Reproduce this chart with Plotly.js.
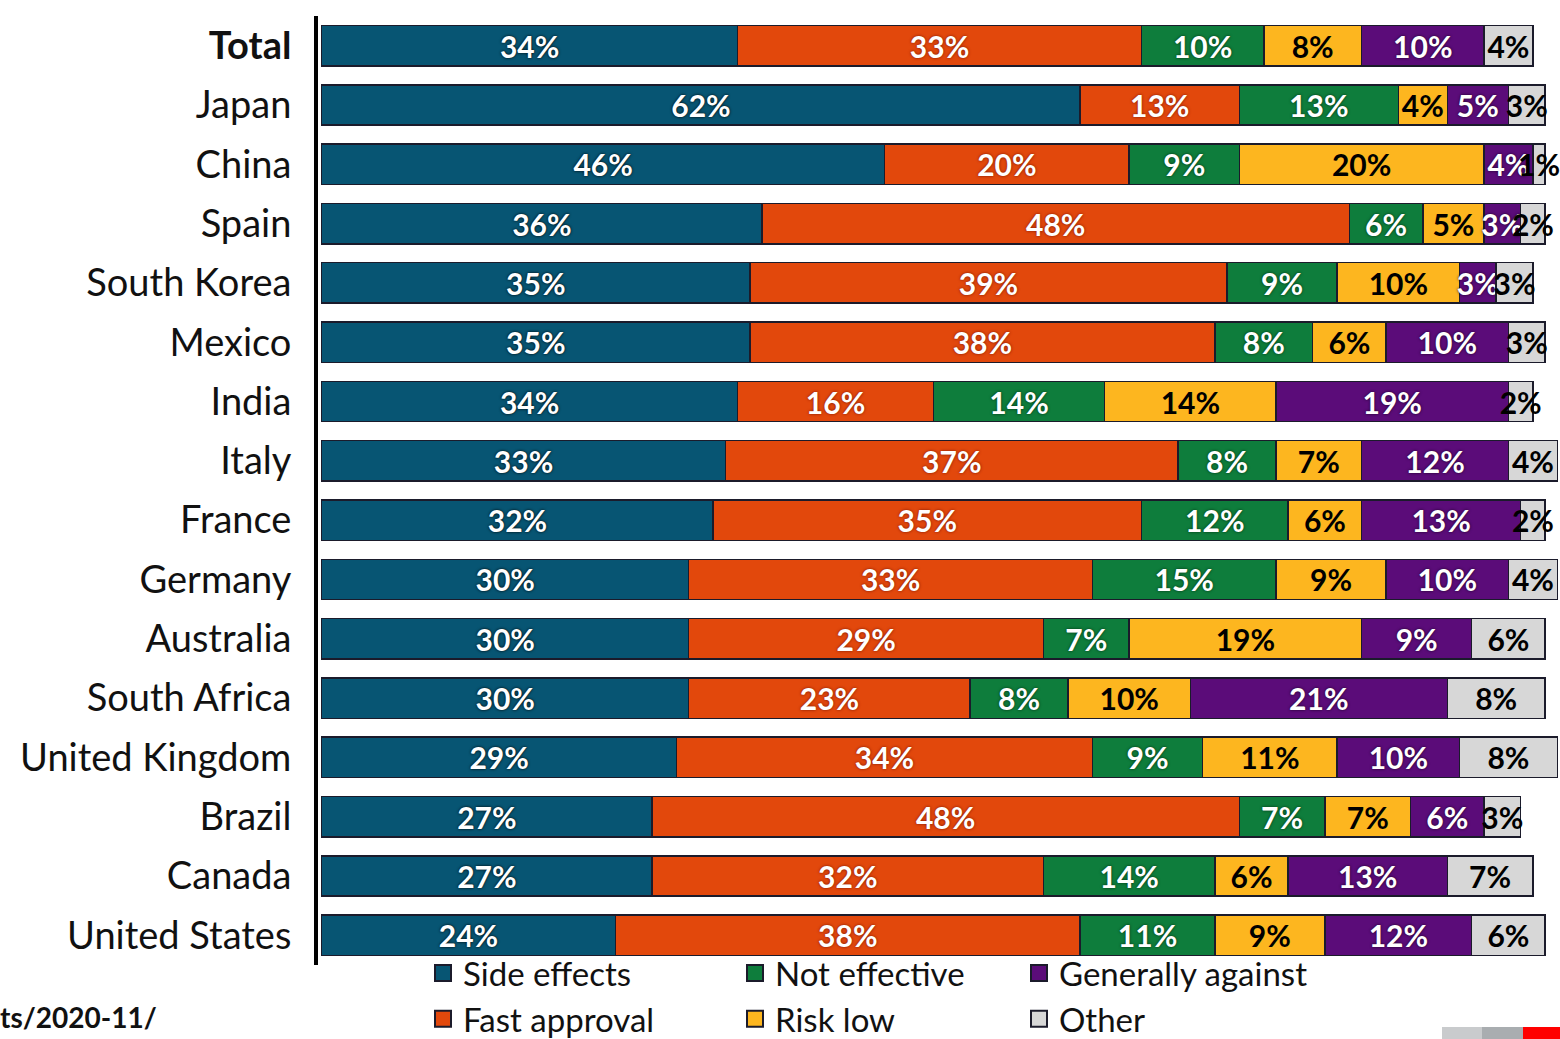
<!DOCTYPE html>
<html>
<head>
<meta charset="utf-8">
<script src="https://cdn.plot.ly/plotly-3.0.1.min.js"></script>
<style>html,body{margin:0;padding:0;background:#fff;}#chart{width:1560px;height:1039px;}</style>
</head>
<body>
<div id="chart"></div>
<script>
const categories = ['Total','Japan','China','Spain','South Korea','Mexico','India','Italy','France','Germany','Australia','South Africa','United Kingdom','Brazil','Canada','United States'];
const sideEffects      = [34,62,46,36,35,35,34,33,32,30,30,30,29,27,27,24];
const fastApproval     = [33,13,20,48,39,38,16,37,35,33,29,23,34,48,32,38];
const notEffective     = [10,13, 9, 6, 9, 8,14, 8,12,15, 7, 8, 9, 7,14,11];
const riskLow          = [ 8, 4,20, 5,10, 6,14, 7, 6, 9,19,10,11, 7, 6, 9];
const generallyAgainst = [10, 5, 4, 3, 3,10,19,12,13,10, 9,21,10, 6,13,12];
const other            = [ 4, 3, 1, 2, 3, 3, 2, 4, 2, 4, 6, 8, 8, 3, 7, 6];
const seriesNames = ['Side effects','Fast approval','Not effective','Risk low','Generally against','Other'];
const tickLabels = categories.map(c => c === 'Total' ? '<b>Total</b>' : c);

const FONT = 'Lato, "Open Sans", sans-serif';
const series = [
  {name: seriesNames[0], vals: sideEffects,      color: '#075573', txt: '#ffffff', shadow: '0px 0px 3px #000', legend: 'legend'},
  {name: seriesNames[1], vals: fastApproval,     color: '#E2480C', txt: '#ffffff', shadow: '0px 0px 3px #7a1500', legend: 'legend'},
  {name: seriesNames[2], vals: notEffective,     color: '#0E7D3C', txt: '#ffffff', shadow: '0px 0px 3px #003010', legend: 'legend2'},
  {name: seriesNames[3], vals: riskLow,          color: '#FDB61F', txt: '#000000', shadow: 'none', legend: 'legend2'},
  {name: seriesNames[4], vals: generallyAgainst, color: '#5B0C79', txt: '#ffffff', shadow: '0px 0px 3px #1a0025', legend: 'legend3'},
  {name: seriesNames[5], vals: other,            color: '#D7D7D7', txt: '#000000', shadow: 'none', legend: 'legend3'}
];

const traces = [];
series.forEach(s => {
  traces.push({
    type: 'bar', orientation: 'h', name: s.name,
    y: categories, x: s.vals,
    text: s.vals.map(v => v + '%'),
    textposition: 'inside', insidetextanchor: 'middle', textangle: 0,
    constraintext: 'none', cliponaxis: false,
    textfont: {family: FONT, size: 30, color: s.txt, weight: 'bold', shadow: s.shadow},
    marker: {color: s.color, line: {color: '#1b1b2b', width: 1.5}},
    showlegend: false, hoverinfo: 'skip'
  });
});
series.forEach(s => {
  traces.push({
    type: 'scatter', mode: 'markers', name: s.name,
    x: [null], y: [null],
    marker: {symbol: 'square', size: 16, color: s.color, line: {color: '#1b1b2b', width: 2}},
    legend: s.legend, showlegend: true, hoverinfo: 'skip'
  });
});

// paper area: top margin 16, bottom margin 0 -> paper height 1023 px, width 1240 px
const PH = 1023, PW = 1240;
const px = v => (v - 318) / PW;
const py = v => (1039 - v) / PH;
const legendCommon = {orientation: 'v', traceorder: 'normal', xanchor: 'left', yanchor: 'top',
  y: py(945),
  font: {family: FONT, size: 33, color: '#111'}, itemsizing: 'trace', bgcolor: 'rgba(0,0,0,0)', tracegroupgap: 0};

const logo = [[1442, 1482, '#c9cbcd'], [1482, 1523, '#a9adb0'], [1523, 1560, '#ff0000']];

const layout = {
  width: 1560, height: 1039,
  margin: {l: 318, r: 2, t: 16, b: 0, autoexpand: false},
  paper_bgcolor: '#ffffff', plot_bgcolor: '#ffffff',
  barmode: 'stack', bargap: 0.32,
  uniformtext: {mode: 'show', minsize: 30},
  font: {family: FONT, color: '#111'},
  xaxis: {range: [-0.3, 101.05], visible: false, fixedrange: true},
  yaxis: {
    domain: [py(965), 1],
    type: 'category', categoryorder: 'array', categoryarray: categories,
    autorange: 'reversed', tickmode: 'array', tickvals: categories, ticktext: tickLabels,
    tickfont: {family: FONT, size: 38, color: '#111'},
    showline: true, linecolor: '#000', linewidth: 4, showgrid: false, zeroline: false,
    ticks: '', ticklabelstandoff: 15
  },
  showlegend: true,
  legend:  Object.assign({}, legendCommon, {x: px(423)}),
  legend2: Object.assign({}, legendCommon, {x: px(735)}),
  legend3: Object.assign({}, legendCommon, {x: px(1019)}),
  shapes: logo.map(([a, b, c]) => ({type: 'rect', xref: 'paper', yref: 'paper', layer: 'above',
    x0: px(a), x1: px(b), y0: py(1039), y1: py(1027), fillcolor: c, line: {width: 0}})),
  annotations: [
    {xref: 'paper', yref: 'paper', x: px(-2), y: py(1017), xanchor: 'left', yanchor: 'middle',
     text: '<b>ts/2020-11/</b>', showarrow: false, font: {family: FONT, size: 28, color: '#111'}}
  ]
};

Plotly.newPlot('chart', traces, layout, {displayModeBar: false, staticPlot: true});
</script>
</body>
</html>
